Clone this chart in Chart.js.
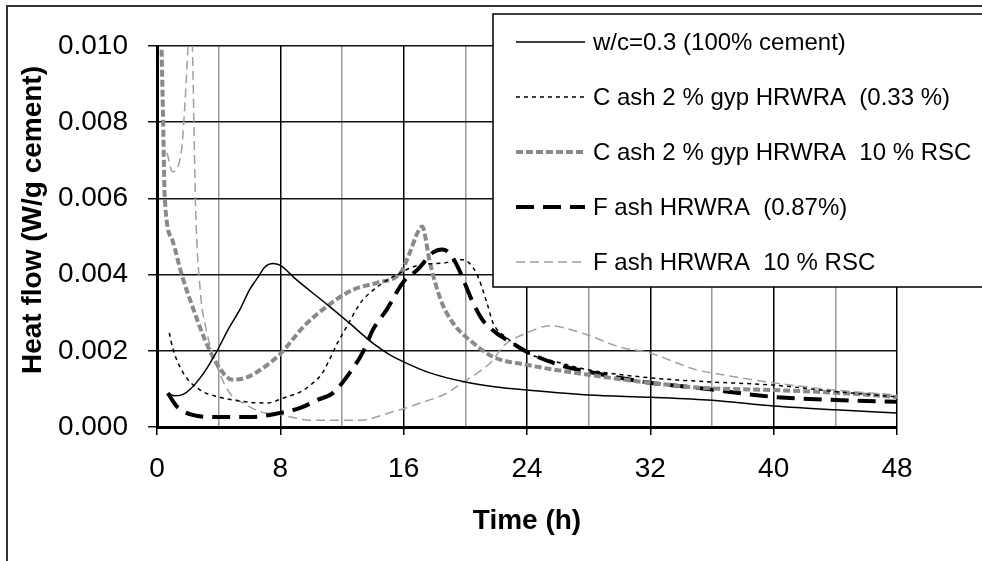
<!DOCTYPE html>
<html>
<head>
<meta charset="utf-8">
<script src="https://cdn.jsdelivr.net/npm/chart.js@4.4.1/dist/chart.umd.min.js"></script>
<style>
body{margin:0;background:#fff;}
</style>
</head>
<body>
<canvas id="grafico" width="982" height="561"></canvas>
<script>

/* DATOS */

const labels = ["w/c=0.3 (100% cement)","C ash 2 % gyp HRWRA  (0.33 %)","C ash 2 % gyp HRWRA  10 % RSC","F ash HRWRA  (0.87%)","F ash HRWRA  10 % RSC"];

const hoursA = [0.7,1.1,1.5,2.1,3.0,3.9,4.6,5.4,6.0,6.5,7.0,7.5,8.0,9.0,10.0,11.2,12.5,14.0,15.0,16.0,17.7,20.0,22.0,24,28,32,36,40,44,48];
const flowA  = [0.00089,0.00082,0.00083,0.00097,0.0014,0.0020,0.00255,0.0031,0.0036,0.0039,0.0042,0.00429,0.00424,0.00388,0.00355,0.00316,0.00272,0.0022,0.00192,0.00171,0.00142,0.00118,0.00105,0.00097,0.00084,0.00078,0.0007,0.00055,0.00045,0.00037];

const hoursB = [0.8,1.0,1.7,2.8,3.9,4.9,6.0,7.1,8.4,9.3,10.1,10.7,11.2,11.7,12.3,13.2,14.3,15.8,17.1,18.5,19.8,20.7,21.4,21.8,22.7,24,26,28,32,36,40,44,48];
const flowB  = [0.00247,0.0021,0.00142,0.00097,0.0008,0.00071,0.00065,0.00063,0.00079,0.00092,0.00115,0.0014,0.00178,0.0022,0.00263,0.00326,0.00368,0.00405,0.00426,0.0043,0.00439,0.00405,0.00326,0.00273,0.00234,0.00195,0.0017,0.0015,0.00129,0.00118,0.0011,0.00093,0.00079];

const hoursC = [0.3,0.4,0.5,1.0,1.6,2.3,3.1,4.0,4.9,5.8,6.7,8.0,9.5,11.0,12.7,14.3,15.8,16.4,16.9,17.2,17.7,18.4,19.2,20.5,21.8,24,28,32,35.2,40,44,48];
const flowC  = [0.0099,0.008,0.00605,0.0049,0.004,0.00316,0.0023,0.00158,0.00124,0.0013,0.0015,0.00192,0.00263,0.00316,0.0036,0.00379,0.00405,0.00458,0.0051,0.00526,0.00432,0.00334,0.00273,0.00221,0.00184,0.00163,0.00137,0.00116,0.00103,0.00097,0.0009,0.00079];

const hoursD = [0.7,1.0,1.3,2.3,3.9,6.0,8.0,9.3,10.4,11.4,12.5,13.4,14.0,14.9,16.0,16.9,17.9,18.5,19.0,19.5,20.5,21.1,22.0,22.9,24,26.1,28,32,35,40,44,48];
const flowD  = [0.00089,0.0007,0.00053,0.00032,0.00026,0.00026,0.00037,0.0005,0.00071,0.00089,0.00142,0.002,0.00255,0.00308,0.00382,0.00413,0.00458,0.00466,0.00455,0.00421,0.00326,0.00282,0.00247,0.00224,0.00197,0.00163,0.00145,0.00116,0.00103,0.00079,0.00071,0.00066];

const hoursE = [0.65,1.0,1.6,1.8,2.0,2.15,2.3,2.5,2.8,3.2,3.9,4.7,5.8,6.7,8.0,9.9,13.2,15.3,16.0,17.1,18.8,19.8,20.8,21.8,22.4,24,25.5,26.1,27.9,30,31.9,35,36.7,40,44,48];
const flowE  = [0.0072,0.0067,0.0073,0.0084,0.0099,0.0112,0.0099,0.0058,0.0036,0.00255,0.00158,0.0009,0.00058,0.0004,0.00032,0.00018,0.00018,0.0004,0.00048,0.00063,0.00089,0.00116,0.00142,0.00176,0.0021,0.00247,0.00266,0.00263,0.00242,0.0021,0.00195,0.0015,0.00137,0.00116,0.00097,0.00084];

const xTicks = [0,8,16,24,32,40,48];

const yTitle = "Heat flow (W/g cement)";

const FONT = "'Liberation Sans', Arial, sans-serif";

function puntos(hs, vs){
return hs.map((h,i)=>({x:h,y:vs[i]}));
}

function serie(i, hs, vs, color, width, dash){
return {
label:labels[i],
data:puntos(hs,vs),
borderColor:color,
borderWidth:width,
borderDash:dash,
pointRadius:0,
fill:false,
cubicInterpolationMode:"monotone"
};
}

/* LEYENDA, TITULO Y MARCO */

const marco = {
id:"marco",
afterDraw(chart){
const ctx = chart.ctx;
ctx.save();

ctx.strokeStyle = "#333";
ctx.lineWidth = 2;
ctx.strokeRect(7,6,1200,1200);

// y title, sits a bit above the plot centre like the original
ctx.save();
ctx.translate(33,220);
ctx.rotate(-Math.PI/2);
ctx.font = "bold 28px " + FONT;
ctx.fillStyle = "#000";
ctx.textAlign = "center";
ctx.textBaseline = "middle";
ctx.fillText(yTitle,0,0);
ctx.restore();

ctx.fillStyle = "#fff";
ctx.fillRect(493,14,600,273);
ctx.strokeStyle = "#000";
ctx.lineWidth = 1.5;
ctx.strokeRect(493,14,600,273);

ctx.font = "24px " + FONT;
ctx.textBaseline = "middle";
chart.data.datasets.forEach((ds,i)=>{
const y = 42 + i*55;
ctx.beginPath();
ctx.strokeStyle = ds.borderColor;
ctx.lineWidth = ds.borderWidth;
ctx.setLineDash(ds.borderDash || []);
ctx.moveTo(516,y);
ctx.lineTo(585,y);
ctx.stroke();
ctx.setLineDash([]);
ctx.fillStyle = "#000";
ctx.fillText(ds.label,593,y+1);
});

ctx.restore();
}
};

new Chart(document.getElementById("grafico"),{

type:"line",

data:{
datasets:[
serie(0,hoursA,flowA,"#000",1.5,[]),
serie(1,hoursB,flowB,"#000",1.5,[4,4]),
serie(2,hoursC,flowC,"#8a8a8a",4,[7,3]),
serie(3,hoursD,flowD,"#000",4,[18,9]),
serie(4,hoursE,flowE,"#a0a0a0",1.5,[9,5])
]
},

options:{
responsive:false,
animation:false,
layout:{padding:{top:46,right:85,left:0,bottom:0}},
plugins:{
legend:{display:false},
tooltip:{enabled:false}
},
scales:{
x:{
type:"linear",
min:0,
max:48,
afterFit(s){ s.height = 134; },
ticks:{
stepSize:4,
color:"#000",
padding:17,
font:{family:FONT,size:28},
callback:v => xTicks.includes(v) ? String(v) : ""
},
grid:{
color:c => c.tick && c.tick.value % 8 === 0 ? "#000" : "#999",
lineWidth:1.5,
tickLength:8,
tickColor:c => c.tick && c.tick.value % 8 === 0 ? "#000" : "rgba(0,0,0,0)"
},
border:{color:"#000",width:3},
title:{
display:true,
text:"Time (h)",
color:"#000",
font:{family:FONT,size:28,weight:"bold"},
padding:{top:0,bottom:23}
}
},
y:{
min:0,
max:0.010,
afterFit(s){ s.width = 157; },
ticks:{
stepSize:0.002,
color:"#000",
padding:20,
font:{family:FONT,size:28},
callback:v => Number(v).toFixed(3)
},
grid:{
color:"#111",
lineWidth:1.5,
tickLength:9
},
border:{color:"#000",width:3},
title:{display:false}
}
}
},

plugins:[marco]

});

</script>
</body>
</html>
